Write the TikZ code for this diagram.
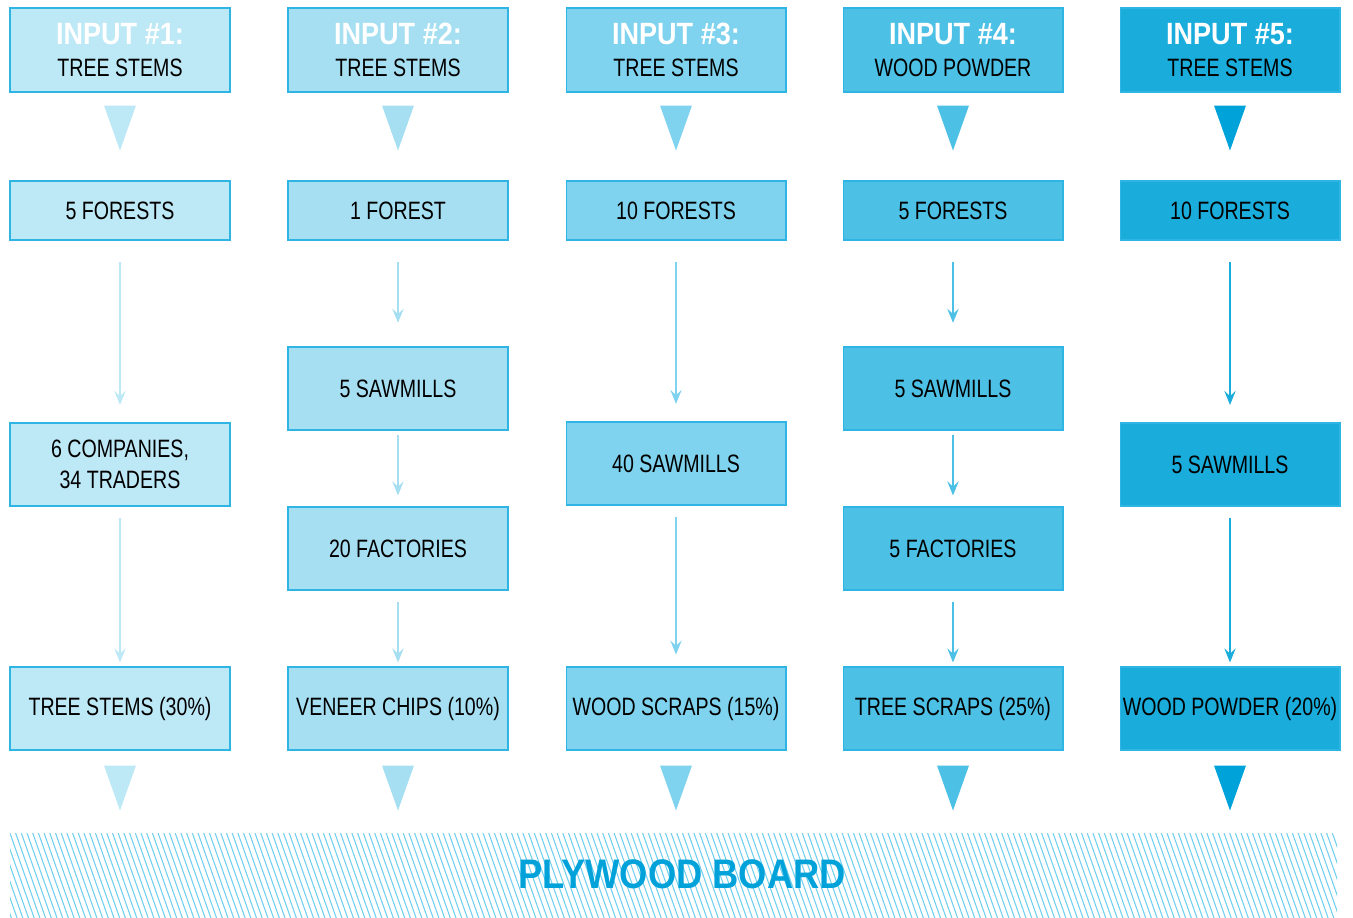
\documentclass[tikz,border=0pt]{standalone}
\usepackage{fontspec}
\setmainfont{Liberation Sans}[FakeStretch=0.78, BoldFeatures={FakeStretch=0.88}]
\usepackage{tikz}
\usetikzlibrary{arrows.meta,calc}
\usepackage{xcolor}

\definecolor{colA}{HTML}{BDE8F6}
\definecolor{colB}{HTML}{A6DFF2}
\definecolor{colC}{HTML}{80D3EE}
\definecolor{colD}{HTML}{4DC0E6}
\definecolor{colE}{HTML}{1AADDC}
\definecolor{colEdark}{HTML}{00A3D9}
\definecolor{edgeblue}{HTML}{2FB5E4}
\definecolor{hatchblue}{HTML}{6ECFEE}
\definecolor{boardblue}{HTML}{00A2D9}

\newcommand{\inputtag}[1]{{\fontsize{17.5}{18}\selectfont\bfseries\color{white}INPUT \##1:}}

\begin{document}
\begin{tikzpicture}[x=0.02cm, y=-0.02cm,
    box/.style={draw=edgeblue, line width=0.6pt, minimum width=4.4cm, minimum height=1.66cm,
        inner xsep=1pt, align=center, font=\fontsize{14.3}{18}\selectfont},
    head/.style={box, minimum height=1.68cm},
    forest/.style={box, minimum height=1.18cm},
    flow/.style={-{Stealth[length=8pt,width=6.5pt,inset=3pt]}, line width=0.7pt,
        shorten <=6.3pt, shorten >=2.3pt},
    first/.style={flow, shorten <=12.5pt, shorten >=10pt},
    hatch/.style={hatchblue, line width=0.6pt}
]
    \useasboundingbox (0,0) rectangle (1353,918);

    % Inputs and big arrows
    \foreach \n/\x/\c/\t in {1/120/colA/TREE STEMS, 2/398/colB/TREE STEMS,
        3/676/colC/TREE STEMS, 4/953/colD/WOOD POWDER, 5/1230/colE/TREE STEMS} {
        \node[head, fill=\c] (h\n) at (\x,50) {\inputtag{\n}\\\t};
    }
    \foreach \n/\c in {1/colA, 2/colB, 3/colC, 4/colD, 5/colEdark} {
        \fill[\c] ($(h\n.south)+(-16,13)$) -- ++(32,0) -- ++(-16,45) -- cycle;
    }

    % Forests
    \node[forest, fill=colA] (f1) at (120,210.5) {5 FORESTS};
    \node[forest, fill=colB] (f2) at (398,210.5) {1 FOREST};
    \node[forest, fill=colC] (f3) at (676,210.5) {10 FORESTS};
    \node[forest, fill=colD] (f4) at (953,210.5) {5 FORESTS};
    \node[forest, fill=colE] (f5) at (1230,210.5) {10 FORESTS};

    % Column 1
    \node[box, fill=colA] (c1) at (120,464.5) {6 COMPANIES,\\34 TRADERS};
    \node[box, fill=colA] (out1) at (120,708.5) {TREE STEMS (30\%)};
    \draw[first, colA] (f1) -- (c1);
    \draw[flow, colA] (c1) -- (out1);

    % Column 2
    \node[box, fill=colB] (s2) at (398,388.5) {5 SAWMILLS};
    \node[box, fill=colB] (fa2) at (398,548.5) {20 FACTORIES};
    \node[box, fill=colB] (out2) at (398,708.5) {VENEER CHIPS (10\%)};
    \draw[first, colB, shorten >=13.5pt] (f2) -- (s2);
    \draw[flow, colB, shorten <=2.3pt, shorten >=6.3pt] (s2) -- (fa2);
    \draw[flow, colB] (fa2) -- (out2);

    % Column 3
    \node[box, fill=colC] (s3) at (676,463.5) {40 SAWMILLS};
    \node[box, fill=colC] (out3) at (676,708.5) {WOOD SCRAPS (15\%)};
    \draw[first, colC] (f3) -- (s3);
    \draw[flow, colC, shorten <=6.8pt, shorten >=6.8pt] (s3) -- (out3);

    % Column 4
    \node[box, fill=colD] (s4) at (953,388.5) {5 SAWMILLS};
    \node[box, fill=colD] (fa4) at (953,548.5) {5 FACTORIES};
    \node[box, fill=colD] (out4) at (953,708.5) {TREE SCRAPS (25\%)};
    \draw[first, colD, shorten >=13.5pt] (f4) -- (s4);
    \draw[flow, colD, shorten <=2.3pt, shorten >=6.3pt] (s4) -- (fa4);
    \draw[flow, colD] (fa4) -- (out4);

    % Column 5
    \node[box, fill=colE] (s5) at (1230,464.5) {5 SAWMILLS};
    \node[box, fill=colE] (out5) at (1230,708.5) {WOOD POWDER (20\%)};
    \draw[first, colE] (f5) -- (s5);
    \draw[flow, colE] (s5) -- (out5);

    % Big arrows into the board
    \foreach \n/\c in {1/colA, 2/colB, 3/colC, 4/colD, 5/colEdark} {
        \fill[\c] ($(out\n.south)+(-16,15)$) -- ++(32,0) -- ++(-16,45) -- cycle;
    }

    % Plywood board
    \begin{scope}
        \clip (10,833) rectangle (1337,918);
        \foreach \i in {0,...,245} {
            \draw[hatch] (\i*5.7-30,833) -- ++(30,85);
        }
    \end{scope}
    \node[font=\fontsize{23.5}{24}\selectfont\bfseries, text=boardblue] (board) at (682,874) {PLYWOOD BOARD};
\end{tikzpicture}
\end{document}
